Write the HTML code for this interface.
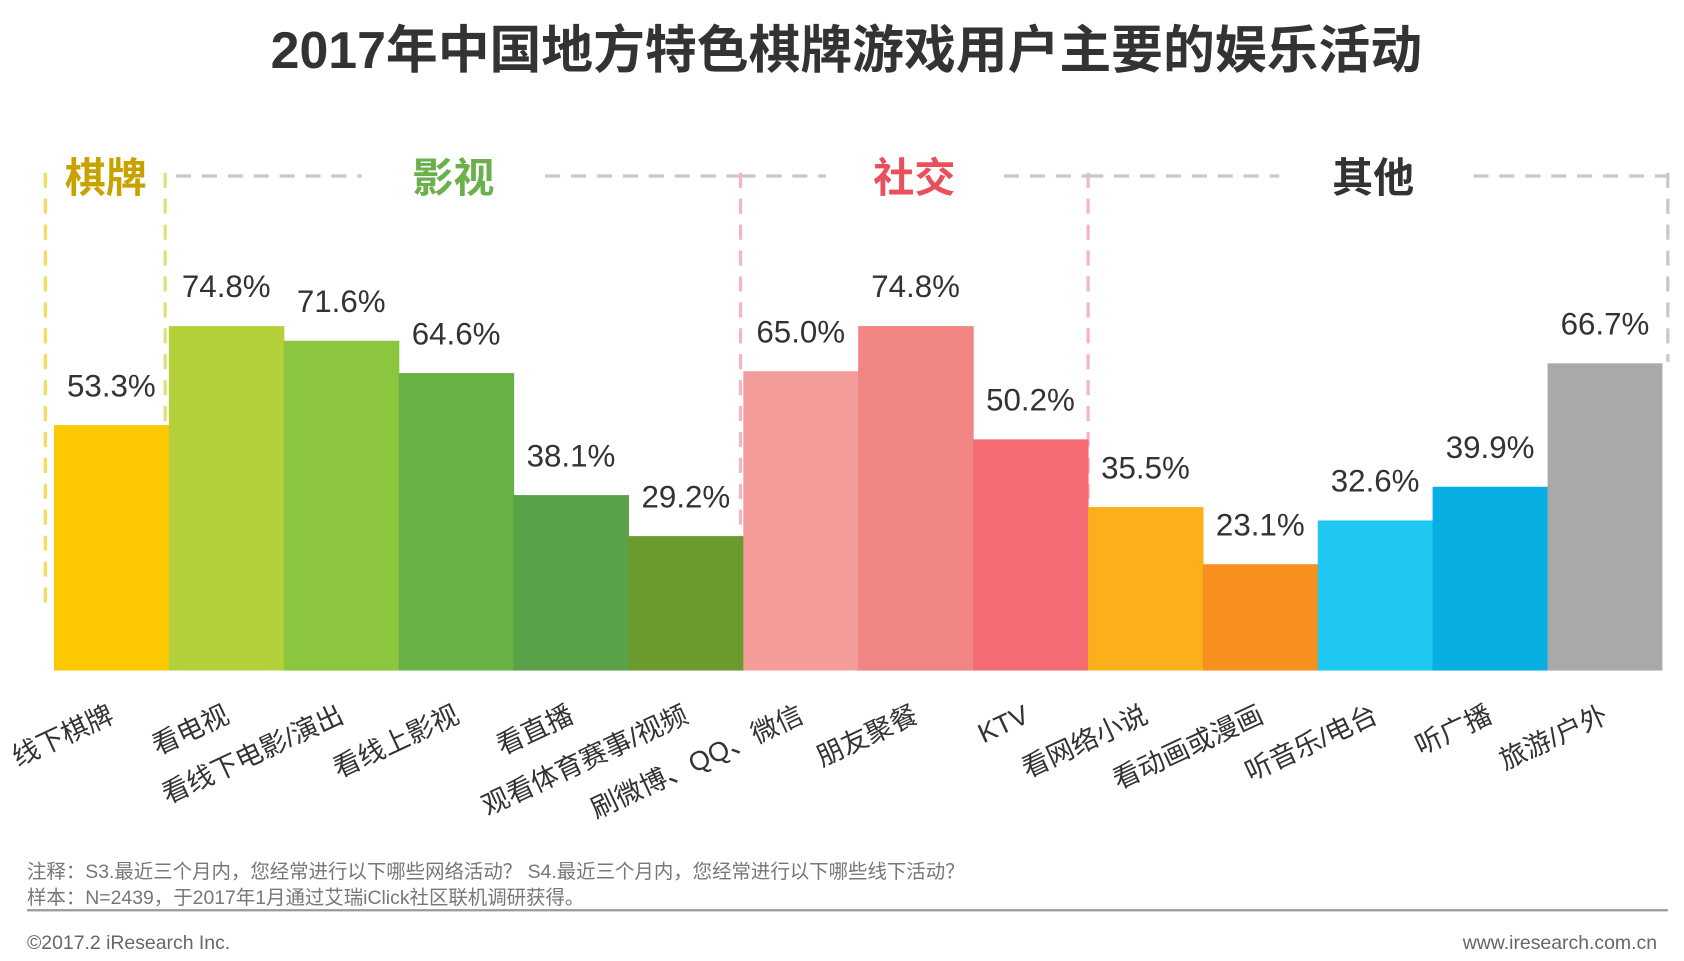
<!DOCTYPE html>
<html><head><meta charset="utf-8"><style>html,body{margin:0;padding:0;background:#fff}svg{display:block}</style></head><body>
<svg width="1684" height="961" viewBox="0 0 1560 890" preserveAspectRatio="none" xmlns="http://www.w3.org/2000/svg" font-family="Liberation Sans, Noto Sans CJK SC, sans-serif">
<text x="784" y="63" text-anchor="middle" font-size="48" font-weight="bold" fill="#333">2017年中国地方特色棋牌游戏用户主要的娱乐活动</text>
<g stroke-width="3" stroke-dasharray="14,10" fill="none">
<line x1="163" y1="163" x2="335" y2="163" stroke="#c8c8c8"/>
<line x1="505" y1="163" x2="686" y2="163" stroke="#c8c8c8"/>
<line x1="686" y1="163" x2="765" y2="163" stroke="#c8c8c8"/>
<line x1="930" y1="163" x2="1008" y2="163" stroke="#c8c8c8"/>
<line x1="1008" y1="163" x2="1185" y2="163" stroke="#c8c8c8"/>
<line x1="1365" y1="163" x2="1545" y2="163" stroke="#c8c8c8"/>
<line x1="42" y1="160" x2="42" y2="565" stroke="#f2de5a"/>
<line x1="153" y1="160" x2="153" y2="565" stroke="#dfe07a"/>
<line x1="686" y1="160" x2="686" y2="560" stroke="#f4b6c0"/>
<line x1="1008" y1="160" x2="1008" y2="470" stroke="#f4b6c0"/>
<line x1="1545" y1="160" x2="1545" y2="335" stroke="#c8c8c8"/>
</g>
<g font-size="38" font-weight="bold" text-anchor="middle">
<text x="98" y="178" fill="#c8a300">棋牌</text>
<text x="420" y="178" fill="#6ab04c">影视</text>
<text x="847" y="178" fill="#e8505b">社交</text>
<text x="1272" y="178" fill="#333">其他</text>
</g>
<g>
<rect x="50" y="393.7" width="107" height="227.3" fill="#fcc800"/>
<rect x="156.4" y="302" width="107" height="319" fill="#b3cf3a"/>
<rect x="262.9" y="315.6" width="107" height="305.4" fill="#8cc63f"/>
<rect x="369.3" y="345.5" width="107" height="275.5" fill="#68b245"/>
<rect x="475.7" y="458.5" width="107" height="162.5" fill="#59a24a"/>
<rect x="582.1" y="496.5" width="107" height="124.5" fill="#6b9a2e"/>
<rect x="688.6" y="343.8" width="107" height="277.2" fill="#f39c9a"/>
<rect x="795" y="302" width="107" height="319" fill="#f08584"/>
<rect x="901.4" y="406.9" width="107" height="214.1" fill="#f46b73"/>
<rect x="1007.9" y="469.6" width="107" height="151.4" fill="#fbaf1a"/>
<rect x="1114.3" y="522.5" width="107" height="98.5" fill="#f7901e"/>
<rect x="1220.7" y="482" width="107" height="139" fill="#1fc8f0"/>
<rect x="1327.1" y="450.8" width="107" height="170.2" fill="#06aee2"/>
<rect x="1433.6" y="336.5" width="106.4" height="284.5" fill="#a9a9aa"/>
</g>
<g font-size="29" fill="#333" text-anchor="middle">
<text x="103.2" y="367">53.3%</text>
<text x="209.6" y="275">74.8%</text>
<text x="316.1" y="289">71.6%</text>
<text x="422.5" y="319">64.6%</text>
<text x="528.9" y="432">38.1%</text>
<text x="635.4" y="470">29.2%</text>
<text x="741.8" y="317">65.0%</text>
<text x="848.2" y="275">74.8%</text>
<text x="954.6" y="380">50.2%</text>
<text x="1061.1" y="443">35.5%</text>
<text x="1167.5" y="496">23.1%</text>
<text x="1273.9" y="455">32.6%</text>
<text x="1380.4" y="424">39.9%</text>
<text x="1486.8" y="310">66.7%</text>
</g>
<g font-size="25" fill="#333" text-anchor="end">
<text transform="translate(107,668) rotate(-25)">线下棋牌</text>
<text transform="translate(214,668) rotate(-25)">看电视</text>
<text transform="translate(320,668) rotate(-25)">看线下电影/演出</text>
<text transform="translate(427,668) rotate(-25)">看线上影视</text>
<text transform="translate(533,668) rotate(-25)">看直播</text>
<text transform="translate(639,668) rotate(-25)">观看体育赛事/视频</text>
<text transform="translate(746,668) rotate(-25)">刷微博、QQ、微信</text>
<text transform="translate(852,668) rotate(-25)">朋友聚餐</text>
<text transform="translate(955,668) rotate(-25)">KTV</text>
<text transform="translate(1065,668) rotate(-25)">看网络小说</text>
<text transform="translate(1172,668) rotate(-25)">看动画或漫画</text>
<text transform="translate(1278,668) rotate(-25)">听音乐/电台</text>
<text transform="translate(1384,668) rotate(-25)">听广播</text>
<text transform="translate(1491,668) rotate(-25)">旅游/户外</text>
</g>
<line x1="25" y1="843" x2="1545" y2="843" stroke="#999" stroke-width="2"/>
<g font-size="18" fill="#777">
<text x="25" y="813">注释：S3.最近三个月内，您经常进行以下哪些网络活动？ S4.最近三个月内，您经常进行以下哪些线下活动？</text>
<text x="25" y="837">样本：N=2439，于2017年1月通过艾瑞iClick社区联机调研获得。</text>
</g>
<g font-size="18" fill="#666">
<text x="25" y="879">©2017.2 iResearch Inc.</text>
<text x="1535" y="879" text-anchor="end">www.iresearch.com.cn</text>
</g>
</svg>
</body></html>
